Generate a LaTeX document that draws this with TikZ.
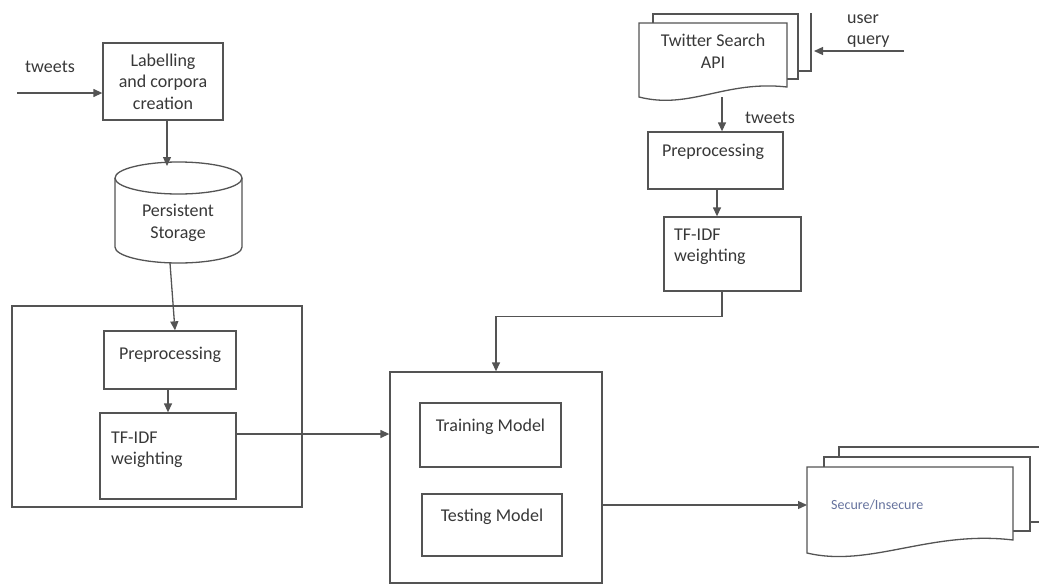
\documentclass[tikz,border=0pt]{standalone}
\usepackage{fontspec}
\setmainfont{Carlito}
\usetikzlibrary{arrows.meta}
\definecolor{ink}{rgb}{0.33,0.33,0.33}
\definecolor{txt}{rgb}{0.22,0.22,0.22}
\definecolor{outtxt}{rgb}{0.40,0.45,0.62}
\begin{document}
\begin{tikzpicture}[x=1pt,y=-1pt,
  box/.style={draw=ink, line width=1.3pt, rectangle, inner sep=0pt, fill=white},
  lbl/.style={text=txt, font=\fontsize{18}{21.5}\selectfont, inner sep=0pt, align=center},
  line/.style={draw=ink, line width=1.3pt},
  arr/.style={draw=ink, line width=1.3pt, -{Triangle[length=9pt,width=8pt]}}]
\useasboundingbox (0,0) rectangle (1039,584);

% ---- training branch (left) ----
\node[lbl] (tw1) at (50,67) {tweets};
\coordinate (tin) at (17,93);
\node[box, minimum width=120pt, minimum height=77pt] (lab) at (163,81.5) {};
\node[lbl] (labt) at (lab) {Labelling\\and corpora\\creation};

% persistent storage cylinder
\draw[line, fill=white] (115,178) -- (115,247)
  arc[start angle=180, end angle=360, x radius=63.5pt, y radius=16pt] -- (242,178);
\draw[line, fill=white] (178.5,178) ellipse [x radius=63.5pt, y radius=16pt];
\node[lbl] (store) at (178,223) {Persistent\\Storage};
\coordinate (storetop) at (167,166);
\coordinate (storebot) at (170,263);

% feature extraction group
\node[box, minimum width=290pt, minimum height=201pt] (grp) at (157,406.5) {};
\node[box, minimum width=132pt, minimum height=58pt] (prepL) at (170,360) {};
\node[lbl] (prepLt) at (170,355) {Preprocessing};
\node[box, minimum width=136pt, minimum height=86pt] (tfL) at (168,456) {};
\node[lbl, align=left, anchor=west] (tfLt) at (111,450) {TF-IDF\\weighting};
\path (tfL.east) ++(0,-22) coordinate (tfo);

% ---- classifier ----
\node[box, minimum width=212pt, minimum height=211pt] (big) at (496,477.5) {};
\node[box, minimum width=141pt, minimum height=64pt] (train) at (490.5,435) {};
\node[lbl] (traint) at (490.5,427) {Training Model};
\node[box, minimum width=140pt, minimum height=62pt] (test) at (492,525) {};
\node[lbl] (testt) at (492,517) {Testing Model};

% ---- query branch (right) ----
% stacked documents: Twitter Search API
\draw[line] (811,13) -- (811,71) -- (798,71);
\draw[line, fill=white] (653,23) -- (653,14) -- (798,14) -- (798,79) -- (787,79);
\draw[line, fill=white] (639,23) -- (787,23) -- (787,87)
  .. controls (725,80) and (690,110) .. (639,97) -- cycle;
\node[lbl] (api) at (713,51) {Twitter Search\\API};
\coordinate (twbot) at (722,97);
\coordinate (twr) at (814,51);
\coordinate (uq) at (904,51);
\node[lbl, align=left, anchor=west] (uqt) at (847,31) {user\\query};
\node[lbl] (tw2) at (770,118) {tweets};

\node[box, minimum width=135pt, minimum height=57pt] (prepR) at (715.5,160.5) {};
\node[lbl] (prepRt) at (713,152) {Preprocessing};
\node[box, minimum width=137pt, minimum height=74pt] (tfR) at (732.5,254) {};
\node[lbl, align=left, anchor=west] (tfRt) at (674,247) {TF-IDF\\weighting};

% stacked documents: result
\draw[line] (839,457) -- (839,447) -- (1039,447);
\draw[line] (1030,522) -- (1039,522);
\draw[line, fill=white] (824,467) -- (824,457) -- (1030,457) -- (1030,531) -- (1013,531);
\draw[line, fill=white] (807,467) -- (1013,467) -- (1013,540)
  .. controls (930,530) and (870,568) .. (807,553) -- cycle;
\node[font=\fontsize{14}{16}\selectfont, text=outtxt, anchor=west, inner sep=0pt] (res) at (831,505) {Secure/Insecure};
\coordinate (secin) at (807,505);

% ---- connectors ----
\draw[arr] (tin) -- (tin -| lab.west);
\draw[arr] (lab.south -| storetop) -- (storetop);
\draw[arr] (storebot) -- ([xshift=5pt]prepL.north);
\draw[arr] ([xshift=-2pt]prepL.south) -- ([xshift=-2pt]prepL.south |- tfL.north);
\draw[arr] (tfo) -- (tfo -| big.west);
\draw[arr] (secin -| big.east) -- (secin);
\draw[arr] (uq) -- (twr);
\draw[arr] (twbot) -- (twbot |- prepR.north);
\draw[arr] ([xshift=1.5pt]prepR.south) -- ([xshift=1.5pt]prepR.south |- tfR.north);
\draw[arr] (twbot |- tfR.south) -- ++(0,25) -| (big.north);
\end{tikzpicture}
\end{document}
